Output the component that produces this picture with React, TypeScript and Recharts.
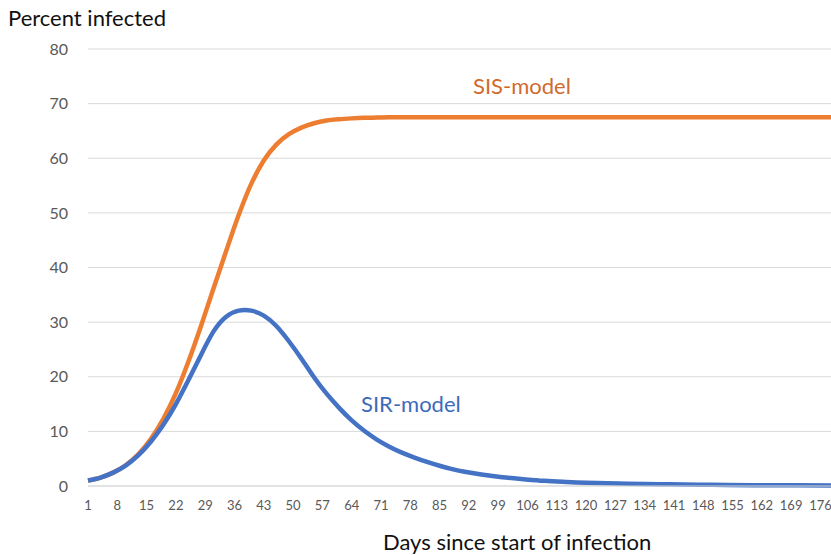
import React from "react";
import { LineChart, Line, XAxis, YAxis, CartesianGrid } from "recharts";

const days = [1, 4, 7, 10, 13, 16, 19, 22, 25, 28, 31, 34, 37, 40, 43, 46, 49, 52, 55, 58, 61, 64, 67, 70, 73, 76, 79, 82, 85, 88, 91, 95, 100, 105, 110, 115, 120, 130, 140, 150, 160, 170, 179];
const sisModel = [1.0, 1.55, 2.45, 3.8, 5.8, 8.6, 12.3, 17.0, 22.8, 29.3, 36.2, 43.0, 49.6, 55.3, 59.6, 62.5, 64.4, 65.6, 66.4, 66.9, 67.15, 67.3, 67.4, 67.45, 67.5, 67.5, 67.5, 67.5, 67.5, 67.5, 67.5, 67.5, 67.5, 67.5, 67.5, 67.5, 67.5, 67.5, 67.5, 67.5, 67.5, 67.5, 67.5];
const sirModel = [1.0, 1.55, 2.45, 3.75, 5.6, 8.1, 11.2, 15.0, 19.4, 24.0, 28.3, 31.0, 32.1, 32.1, 31.2, 29.3, 26.5, 23.3, 19.9, 16.9, 14.3, 12.0, 10.1, 8.5, 7.2, 6.1, 5.2, 4.4, 3.7, 3.1, 2.6, 2.1, 1.6, 1.25, 0.95, 0.75, 0.6, 0.42, 0.3, 0.22, 0.16, 0.12, 0.1];
const xTicks = [1, 8, 15, 22, 29, 36, 43, 50, 57, 64, 71, 78, 85, 92, 99, 106, 113, 120, 127, 134, 141, 148, 155, 162, 169, 176];
const yTicks = [0, 10, 20, 30, 40, 50, 60, 70, 80];

const data = days.map((d, i) => ({ day: d, sis: sisModel[i], sir: sirModel[i] }));

const FONT = "Lato, 'Open Sans', sans-serif";

export default function App() {
  return (
    <div style={{ position: "absolute", left: 0, top: 0, width: 831, height: 555, overflow: "hidden", fontFamily: FONT, background: "#fff" }}>
      <LineChart width={835} height={555} data={data} margin={{ top: 49, right: 2, left: 0, bottom: 0 }}>
        <CartesianGrid vertical={false} stroke="#D9D9D9" strokeWidth={1} />
        <XAxis
          dataKey="day"
          type="number"
          domain={[1, 179]}
          ticks={xTicks}
          interval={0}
          height={69}
          tickLine={false}
          tickSize={0}
          tickMargin={15}
          axisLine={{ stroke: "#D9D9D9", strokeWidth: 1 }}
          tick={{ fill: "#595959", fontSize: 13, fontFamily: FONT }}
        />
        <YAxis
          type="number"
          domain={[0, 80]}
          ticks={yTicks}
          width={88}
          axisLine={false}
          tickLine={false}
          tickSize={0}
          tickMargin={20}
          tick={{ fill: "#595959", fontSize: 16, fontFamily: FONT }}
        />
        <Line type="monotone" dataKey="sis" stroke="#ED7D31" strokeWidth={4.5} dot={false} isAnimationActive={false} />
        <Line type="natural" dataKey="sir" stroke="#4472C4" strokeWidth={4.5} dot={false} isAnimationActive={false} />
      </LineChart>
      <div style={{ position: "absolute", left: 8, top: 5, fontSize: 22, lineHeight: "26px", color: "#111", whiteSpace: "nowrap" }}>Percent infected</div>
      <div style={{ position: "absolute", left: 383, top: 529, fontSize: 22, lineHeight: "26px", color: "#111", whiteSpace: "nowrap" }}>Days since start of infection</div>
      <div style={{ position: "absolute", left: 473, top: 73, fontSize: 22, lineHeight: "26px", color: "#D06A2C", whiteSpace: "nowrap" }}>SIS-model</div>
      <div style={{ position: "absolute", left: 361, top: 391, fontSize: 22, lineHeight: "26px", color: "#3D6AB8", whiteSpace: "nowrap" }}>SIR-model</div>
    </div>
  );
}
